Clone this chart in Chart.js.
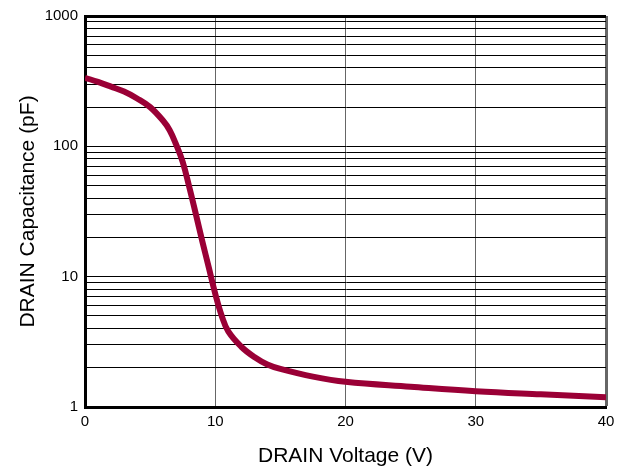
<!DOCTYPE html>
<html lang="en">
<head>
    <meta charset="UTF-8">
    <title>DRAIN Capacitance vs Voltage</title>
    <script src="https://cdn.jsdelivr.net/npm/chart.js"></script>
    <style>
        body {
            margin: 0;
            background: #fff;
        }

        .wrap {
            position: relative;
            width: 627px;
            height: 470px;
        }
    </style>
</head>
<body>
    <div class="wrap">
        <canvas id="cap-chart"></canvas>
    </div>

    <script>
        // Drain voltage (V) and capacitance (pF)
        const voltage = [0, 1, 2, 3, 4, 5, 6, 6.5, 7, 7.5, 8, 8.5, 9, 9.5, 10, 10.5, 11, 12, 13, 14, 15, 17.5, 20, 25, 30, 35, 40];
        const capacitance = [336, 312, 287, 263, 233, 200, 157, 133, 103, 76, 49, 30.5, 18.8, 11.8, 7.4, 5.0, 3.8, 2.9, 2.42, 2.12, 1.96, 1.71, 1.56, 1.43, 1.32, 1.25, 1.19];

        const xTicks = [0, 10, 20, 30, 40];
        const yLabels = [1, 10, 100, 1000];

        // grid at every 1..9 step of each decade
        const yGrid = [];
        for (let d = 0; d < yLabels.length - 1; d++) {
            for (let m = 1; m < 10; m++) yGrid.push(m * yLabels[d]);
        }
        yGrid.push(yLabels[yLabels.length - 1]);

        const ctx = document.getElementById("cap-chart").getContext("2d");

        new Chart(ctx, {
            type: "line",
            data: {
                datasets: [{
                    data: voltage.map((v, i) => ({ x: v, y: capacitance[i] })),
                    borderColor: "#9a0036",
                    borderWidth: 6,
                    pointRadius: 0,
                    tension: 0.4,
                    fill: false
                }]
            },
            options: {
                responsive: true,
                maintainAspectRatio: false,
                animation: false,
                layout: { padding: { left: 0, right: 21, top: 14, bottom: 0 } },
                plugins: {
                    legend: { display: false },
                    tooltip: { enabled: false }
                },
                scales: {
                    x: {
                        type: "linear",
                        min: 0,
                        max: 40,
                        afterBuildTicks: s => { s.ticks = xTicks.map(v => ({ value: v })); },
                        afterFit: s => { s.height = 63; },
                        grid: {
                            drawTicks: false,
                            color: "#666",
                            lineWidth: c => (c.tick && c.tick.value === 40 ? 3 : 1)
                        },
                        border: { color: "#000", width: 3 },
                        ticks: {
                            color: "#000",
                            padding: 6,
                            maxRotation: 0,
                            autoSkip: false,
                            font: { family: "Liberation Sans", size: 15 }
                        },
                        title: {
                            display: true,
                            text: "DRAIN Voltage (V)",
                            color: "#000",
                            font: { family: "Liberation Sans", size: 21 },
                            padding: { top: 0, bottom: 1 }
                        }
                    },
                    y: {
                        type: "logarithmic",
                        min: 1,
                        max: 1000,
                        afterBuildTicks: s => { s.ticks = yGrid.map(v => ({ value: v })); },
                        afterFit: s => { s.width = 85; },
                        grid: {
                            drawTicks: false,
                            color: "#000",
                            lineWidth: c => (c.tick && c.tick.value === 1000 ? 3 : 1)
                        },
                        border: { color: "#000", width: 3 },
                        ticks: {
                            color: "#000",
                            padding: 7,
                            autoSkip: false,
                            font: { family: "Liberation Sans", size: 15 },
                            callback: v => (yLabels.includes(v) ? String(v) : "")
                        },
                        title: {
                            display: true,
                            text: "DRAIN Capacitance (pF)",
                            color: "#000",
                            font: { family: "Liberation Sans", size: 21 },
                            padding: { top: 16, bottom: 0 }
                        }
                    }
                }
            }
        });
    </script>
</body>
</html>
